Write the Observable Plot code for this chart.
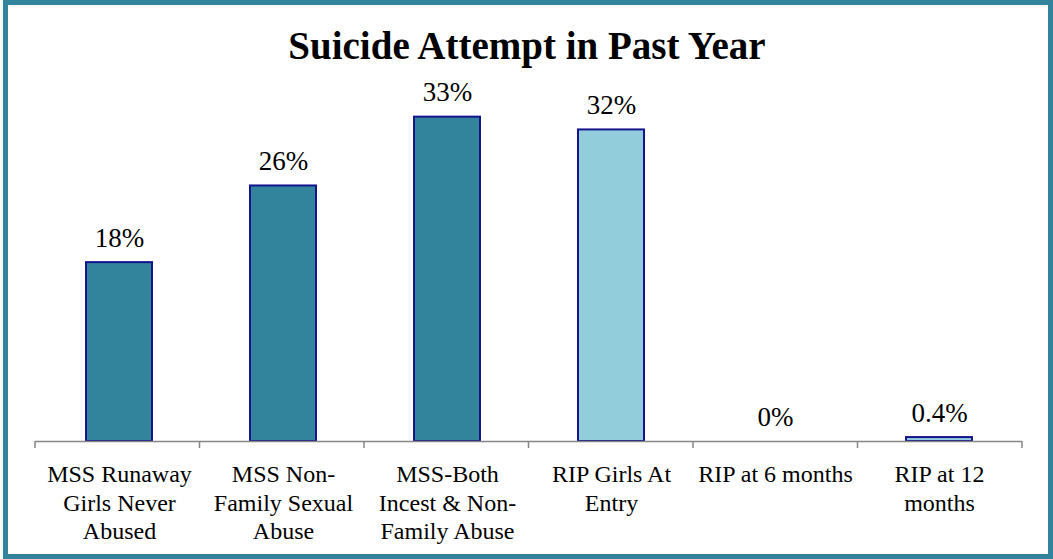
<!DOCTYPE html>
<html>
<head>
<meta charset="utf-8">
<script src="https://cdn.jsdelivr.net/npm/d3@7"></script>
<script src="https://cdn.jsdelivr.net/npm/@observablehq/plot@0.6"></script>
<style>
  html, body { margin: 0; padding: 0; background: #ffffff; }
  #wrap { position: relative; width: 1053px; height: 559px; overflow: hidden; }
  #frame { position: absolute; left: 3px; top: 0; width: 1050px; height: 559px; box-sizing: border-box; border: 5px solid #31849B; pointer-events: none; }
</style>
</head>
<body>
<div id="wrap"><div id="chart"></div><div id="frame"></div></div>
<script>
const title = "Suicide Attempt in Past Year";
const categories = [
  "MSS Runaway\nGirls Never\nAbused",
  "MSS Non-\nFamily Sexual\nAbuse",
  "MSS-Both\nIncest & Non-\nFamily Abuse",
  "RIP Girls At\nEntry",
  "RIP at 6 months",
  "RIP at 12\nmonths"
];
const groups = ["MSS", "MSS", "MSS", "RIP", "RIP", "RIP"];
const values = [18.2, 26.0, 33.0, 31.7, 0, 0.4];
const valueLabels = ["18%", "26%", "33%", "32%", "0%", "0.4%"];
const groupColors = ["#31849B", "#92CDDC"];

const data = categories.map((c, i) => ({cat: c, group: groups[i], value: values[i], label: valueLabels[i]}));

const boundaryTicks = (index, scales, vals, dims) => {
  const g = d3.create("svg:g");
  const x0 = dims.marginLeft;
  const x1 = dims.width - dims.marginRight;
  const y0 = dims.height - dims.marginBottom;
  const n = categories.length;
  for (let i = 0; i <= n; i++) {
    const x = x0 + (x1 - x0) * i / n;
    g.append("line")
      .attr("x1", x).attr("x2", x)
      .attr("y1", y0).attr("y2", y0 + 7)
      .attr("stroke", "#868686").attr("stroke-width", 1.5);
  }
  return g.node();
};

const chart = Plot.plot({
  width: 1053,
  height: 559,
  marginLeft: 35,
  marginRight: 31,
  marginTop: 97,
  marginBottom: 118,
  style: {fontFamily: "'Liberation Serif', 'Times New Roman', serif", background: "transparent", color: "#000"},
  x: {domain: categories, paddingInner: 0.6, paddingOuter: 0.3, axis: null},
  y: {domain: [0, 35], axis: null},
  color: {domain: ["MSS", "RIP"], range: groupColors},
  marks: [
    Plot.barY(data, {x: "cat", y: "value", fill: "group", stroke: "#15158f", strokeWidth: 2}),
    Plot.ruleY([0], {stroke: "#868686", strokeWidth: 1.5}),
    boundaryTicks,
    Plot.text(data, {x: "cat", y: "value", text: "label", lineAnchor: "bottom", dy: -16, fontSize: 27, fill: "#000"}),
    Plot.text(data, {x: "cat", y: () => 0, text: "cat", lineAnchor: "top", dy: 21, fontSize: 24, lineHeight: 1.17, fill: "#000"}),
    Plot.text([title], {frameAnchor: "top", lineAnchor: "bottom", dy: -39, dx: -2, fontSize: 39, fontWeight: "bold", fill: "#000"})
  ]
});
document.getElementById("chart").appendChild(chart);
</script>
</body>
</html>
